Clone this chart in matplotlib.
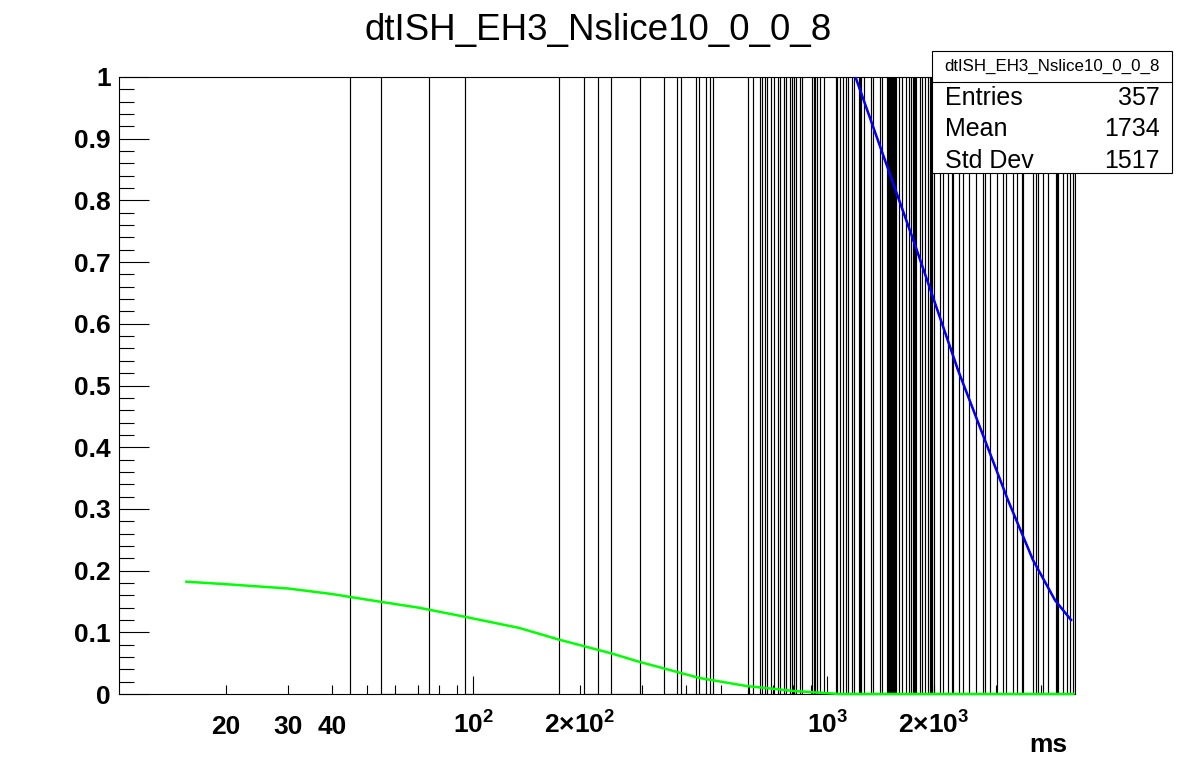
import matplotlib
matplotlib.use('Agg')
import matplotlib.pyplot as plt
from matplotlib.patches import Rectangle
from matplotlib.lines import Line2D

plt.rcParams['font.family'] = ['Liberation Sans', 'DejaVu Sans']
plt.rcParams['mathtext.fontset'] = 'custom'
plt.rcParams['mathtext.rm'] = 'Liberation Sans'
plt.rcParams['mathtext.bf'] = 'Liberation Sans:bold'

hist_name = 'dtISH_EH3_Nslice10_0_0_8'
stat_names = ['Entries', 'Mean', 'Std Dev']
stat_values = ['357', '1734', '1517']

# histogram bin edges (ms) where the content switches between empty and filled
edges_ms = [45, 55, 75, 95, 175, 205, 225, 245, 295, 345, 375, 385, 425, 435, 455, 465, 475,
            595, 615, 645, 655, 665, 675, 695, 705, 725, 735, 755, 765, 785, 795, 805, 815,
            835, 845, 905, 915, 925, 935, 955, 975, 1055, 1065, 1085, 1105, 1125, 1145,
            1175, 1185, 1225, 1235, 1245, 1265, 1325, 1345, 1405, 1425, 1475, 1485, 1495,
            1505, 1515, 1525, 1535, 1545, 1555, 1565, 1595, 1625, 1665, 1705, 1725, 1745,
            1755, 1765, 1775, 1825, 1855, 1885, 1925, 1945, 1955, 1975, 2005, 2075, 2115,
            2185, 2245, 2265, 2345, 2415, 2515, 2625, 2745, 2785, 2875, 3005, 3135, 3195,
            3345, 3425, 3535, 3575, 3815, 3885, 3935, 4065, 4205, 4415, 4445, 4485, 4635,
            4735, 4845, 4925, 4985]
# filled runs go far above the y range (content >= 1)
run_content = [2 if i % 2 == 0 else 0 for i in range(len(edges_ms) - 1)]

# green curve
green_x = [15.5, 20, 30, 40, 50, 70, 95, 135, 175, 245, 295, 435, 590, 800, 1080, 4950]
green_y = [0.182, 0.178, 0.171, 0.162, 0.153, 0.140, 0.125, 0.107, 0.088, 0.066, 0.052,
           0.026, 0.013, 0.005, 0.0, 0.0]

# blue fit
blue_x = [1200, 1767, 2337, 3235, 3806, 4391, 4873]
blue_y = [1.0, 0.728, 0.525, 0.314, 0.217, 0.152, 0.12]

xlab_vals = [20, 30, 40, 100, 200, 1000, 2000]
xlab_txt = ['20', '30', '40', r'$\mathbf{10^{2}}$', r'$\mathbf{2{\times}10^{2}}$',
            r'$\mathbf{10^{3}}$', r'$\mathbf{2{\times}10^{3}}$']
x_minor = [20, 30, 40, 50, 60, 70, 80, 90, 200, 300, 400, 500, 600, 700, 800, 900,
           2000, 3000, 4000]

W, H = 1196, 772
fig = plt.figure(figsize=(W / 100, H / 100), dpi=100)
ax = fig.add_axes([119 / W, 78 / H, 956 / W, 617 / H])
ax.set_xscale('log')
ax.set_xlim(10, 5000)
ax.set_ylim(0, 1)

ax.stairs(run_content, edges_ms, color='black', lw=0.85, baseline=0, zorder=2)
ax.plot(green_x, green_y, color='#00ff00', lw=1.8, zorder=5, clip_on=False)
ax.plot(blue_x, blue_y, color='#ff0000', lw=1.2, zorder=5)
ax.plot(blue_x, blue_y, color='#0000ff', lw=1.8, zorder=6)

for s in ax.spines.values():
    s.set_linewidth(0.8)

ax.set_xticks([100, 1000])
ax.set_xticks(x_minor, minor=True)
ax.tick_params(axis='x', which='major', direction='in', length=13, width=0.8, labelbottom=False)
ax.tick_params(axis='x', which='minor', direction='in', length=6.8, width=0.8, labelbottom=False)

yt = [i / 10 for i in range(11)]
ax.set_yticks(yt)
ax.set_yticklabels(['0', '0.1', '0.2', '0.3', '0.4', '0.5', '0.6', '0.7', '0.8', '0.9', '1'],
                   fontsize=19, fontweight='bold')
ax.set_yticks([i / 50 for i in range(51)], minor=True)
ax.tick_params(axis='y', which='major', direction='in', length=21.5, width=0.8, pad=5.8)
ax.tick_params(axis='y', which='minor', direction='in', length=10.5, width=0.8)

for v, t in zip(xlab_vals, xlab_txt):
    ax.text(v, -40 / 617, t, transform=ax.get_xaxis_transform(), ha='center', va='baseline',
            fontsize=19, fontweight='bold')
ax.text(0.9916, -58 / 617, 'ms', transform=ax.transAxes, ha='right', va='baseline',
        fontsize=19, fontweight='bold')

fig.text(0.5, 1 - 40 / H, hist_name, ha='center', va='baseline', fontsize=26.5)

# stats box
fig.add_artist(Rectangle((932 / W, 1 - 173 / H), 240 / W, 122 / H, transform=fig.transFigure,
                         fc='white', ec='black', lw=0.8, zorder=10))
fig.add_artist(Line2D([932 / W, 1172 / W], [1 - 81.5 / H] * 2, transform=fig.transFigure,
                      color='black', lw=0.8, zorder=11))
fig.text(1052 / W, 1 - 66 / H, hist_name, ha='center', va='center', fontsize=12.2, zorder=12)
for i, (n, v) in enumerate(zip(stat_names, stat_values)):
    yb = 1 - (105 + 31.5 * i) / H
    fig.text(945 / W, yb, n, ha='left', va='baseline', fontsize=18, zorder=12)
    fig.text(1160 / W, yb, v, ha='right', va='baseline', fontsize=18, zorder=12)

fig.savefig('out.png', dpi=100)
